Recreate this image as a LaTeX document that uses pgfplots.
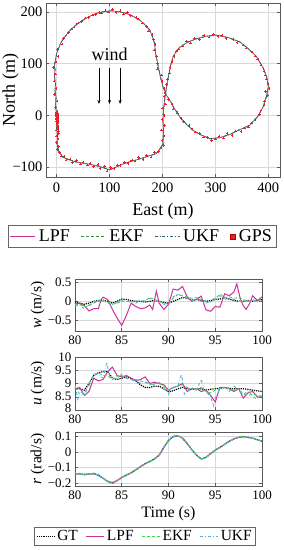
\documentclass[border=0pt]{standalone}
\usepackage{pgfplots}
\pgfplotsset{compat=1.18}
\usepackage{pgfplotstable}
\usetikzlibrary{arrows.meta}
\usepackage{fontspec}
\setmainfont{Liberation Serif}
\definecolor{lpfc}{RGB}{205,50,150}
\definecolor{ekfc}{RGB}{70,215,70}
\definecolor{ukfc}{RGB}{80,180,225}
\definecolor{gpsc}{RGB}{235,30,40}

\pgfplotstableread{
E N
0 0
-1 10
-2 22
-1 35
-3 48
-2 60
-4 75
-3 88
-4 96
-2 108
0 119
4 130
9 142
16 152
25 164
36 174
50 184
62 191
75 197
88 200
103 202
118 200
132 197
145 191
157 184
167 175
176 165
181 152
185 139
187 120
190 105
192 94
196 75
201 55
207 40
214 29
222 14
233 -3
245 -17
258 -29
273 -38
290 -45
308 -43
327 -37
345 -28
365 -19
380 -2
390 16
396 35
400 55
397 74
390 92
378 113
362 129
346 142
325 150
302 155
283 153
264 148
247 141
233 132
224 120
220 113
215 95
211 74
207 50
204 29
202 10
201 -10
202 -30
201 -55
195 -65
188 -74
172 -79
157 -84
140 -89
125 -94
112 -100
100 -105
88 -101
75 -97
55 -93
37 -90
22 -85
12 -81
4 -70
1 -55
2 -40
0 -23
1 -10
0 0
}\pathdata

\pgfplotstableread{
E N
0 0
1 2
-1 -1
2 -3
0 4
1 -5
-1 6
2 1
0 -8
1 8
3 -2
0 -12
2 -15
1 -18
3 -22
2 -26
4 -30
3 -35
-2 15
1 28
-4 40
-1 52
-5 66
-2 80
-6 92
-1 103
3 114
2 127
10 138
13 149
22 160
28 167
33 171
40 178
47 181
54 188
60 189
68 194
73 195
80 199
85 198
92 202
98 200
106 204
112 199
120 202
126 196
134 199
140 193
150 189
155 186
162 178
170 172
174 163
180 156
183 147
186 137
184 126
189 115
191 100
190 90
198 78
199 65
203 52
205 43
211 31
218 22
220 12
228 5
235 -6
240 -12
250 -19
256 -26
262 -32
270 -35
278 -42
285 -43
293 -48
300 -46
307 -41
315 -44
322 -35
331 -39
338 -30
348 -31
355 -24
362 -22
368 -15
375 -8
383 2
386 10
392 20
393 28
398 38
395 46
401 52
399 60
396 70
394 78
392 86
386 97
380 108
375 115
369 122
358 130
352 136
341 141
333 147
320 149
312 154
305 152
296 157
288 151
278 154
270 147
260 149
253 140
245 144
238 134
230 128
226 124
222 114
218 104
214 92
213 82
209 70
208 60
205 45
203 36
206 22
200 14
203 0
199 -8
204 -20
198 -28
203 -40
199 -48
202 -58
197 -62
192 -70
185 -72
178 -80
170 -77
163 -85
155 -81
148 -88
142 -86
135 -93
128 -90
120 -97
115 -96
108 -103
102 -101
95 -107
90 -99
82 -103
78 -95
70 -99
63 -93
58 -96
50 -90
45 -94
38 -87
30 -91
25 -84
18 -86
14 -79
8 -78
5 -72
2 -66
4 -60
-1 -52
3 -46
0 -40
4 -34
-1 -28
3 -24
1 -20
2 -16
0 -6
3 -8
1 -3
-1 3
2 5
1 -11
3 -13
2 -4
0 -2
3 3
1 -7
}\gpsdata

\pgfplotstableread{
t GT EKF UKF
80 -0.02 -0.10 -0.12
80.5 -0.05 -0.08 -0.10
81 -0.08 -0.15 -0.20
81.5 -0.05 -0.12 -0.10
82 0.00 -0.05 -0.02
82.5 0.02 0.00 0.02
83 0.03 0.03 0.00
83.5 0.00 -0.02 -0.05
84 -0.05 -0.08 -0.10
84.5 0.00 -0.05 -0.03
85 0.06 0.00 0.02
85.5 0.05 0.00 -0.02
86 0.02 -0.02 0.00
86.5 0.00 0.00 -0.05
87 0.00 0.00 0.02
87.5 -0.02 0.02 0.00
88 0.00 0.10 0.08
88.5 0.02 0.05 0.02
89 0.00 0.00 -0.02
89.5 -0.03 -0.05 -0.08
90 -0.05 -0.08 -0.10
90.5 0.00 0.08 0.12
91 0.05 0.18 0.20
91.5 0.10 0.15 0.12
92 0.08 0.12 0.08
92.5 0.03 0.08 0.02
93 0.05 0.10 0.05
93.5 0.02 0.05 0.00
94 0.00 0.00 -0.05
94.5 0.02 -0.02 0.00
95 0.05 0.05 0.10
95.5 0.06 0.20 0.15
96 0.10 0.10 0.05
96.5 0.06 0.12 0.08
97 0.02 0.08 0.05
97.5 0.00 0.10 0.00
98 0.00 0.05 -0.02
98.5 0.02 0.00 0.00
99 0.00 -0.02 0.05
99.5 0.02 0.05 -0.02
100 0.05 0.00 0.02
}\wdata

\pgfplotstableread{
t LPF
80 -0.05
80.5 -0.06
81 -0.12
81.5 -0.26
82 -0.20
82.5 -0.20
82.8 0.05
83 0.11
83.5 0.05
84 -0.22
84.5 -0.45
85 -0.65
85.5 -0.38
86 -0.05
86.5 -0.14
87 -0.20
87.5 -0.18
88 -0.10
88.3 -0.22
88.7 0.27
89 -0.05
89.5 -0.22
90 -0.08
90.5 0.33
91 0.30
91.5 0.40
92 0.12
92.5 0.00
93 0.05
93.5 0.14
94 -0.23
94.5 -0.27
95 -0.14
95.5 -0.16
96 0.20
96.5 0.15
97 0.25
97.3 0.47
97.7 0.05
98 -0.12
98.3 -0.22
98.7 -0.05
99 0.15
99.5 0.02
100 0.12
}\wlpf

\pgfplotstableread{
t GT LPF EKF
80 8.80 8.80 8.85
80.5 8.80 8.85 8.60
81 8.75 8.55 8.60
81.5 9.00 8.70 9.00
82 9.30 9.20 9.30
82.5 9.40 9.10 9.40
83 9.45 9.15 9.30
83.5 9.45 9.45 9.30
84 9.20 9.62 9.15
84.5 9.15 9.30 9.25
85 9.20 9.25 9.30
85.5 9.25 9.30 9.20
86 9.20 9.20 9.15
86.5 9.10 9.10 9.15
87 8.95 9.15 9.10
87.5 8.85 9.25 9.05
88 8.85 9.00 8.95
88.5 8.90 9.05 9.00
89 8.90 9.00 9.00
89.5 8.80 8.95 8.90
90 8.70 8.75 8.75
90.5 8.72 8.85 8.85
91 8.80 8.90 8.90
91.5 8.85 9.00 8.95
92 8.80 8.70 8.85
92.5 8.78 8.80 8.80
93 8.80 8.80 8.80
93.5 8.80 8.70 8.85
94 8.75 8.75 8.70
94.5 8.78 8.55 8.65
95 8.80 8.30 8.75
95.5 8.82 8.85 8.80
96 8.85 8.85 8.85
96.5 8.82 8.80 8.80
97 8.80 8.70 8.75
97.5 8.80 8.80 8.80
98 8.80 8.45 8.60
98.5 8.78 8.65 8.55
99 8.75 8.70 8.60
99.5 8.72 8.50 8.55
100 8.70 8.50 8.50
}\udata

\pgfplotstableread{
t UKF
80 8.95
80.3 8.40
80.7 8.70
81 8.60
81.5 8.90
82 9.40
82.5 9.30
83 9.20
83.4 9.80
83.7 9.30
84 9.20
84.5 9.20
85 9.35
85.5 9.20
86 9.10
86.5 9.15
87 9.00
87.5 9.05
88 9.00
88.5 8.95
89 9.05
89.5 8.85
90 8.60
90.5 8.85
91 8.90
91.4 9.35
91.7 8.60
92 8.70
92.5 8.85
93 8.75
93.5 9.15
93.8 8.70
94 8.70
94.5 8.50
94.8 8.15
95 8.45
95.5 8.80
96 8.85
96.5 8.70
97 8.90
97.5 8.75
98 8.55
98.5 8.75
99 8.50
99.5 8.40
100 8.60
}\uukf

\pgfplotstableread{
t GT UKF
80 -0.140 -0.142
80.5 -0.142 -0.135
81 -0.145 -0.150
81.5 -0.142 -0.138
82 -0.140 -0.145
82.5 -0.150 -0.145
83 -0.170 -0.172
83.5 -0.190 -0.186
84 -0.200 -0.198
84.5 -0.185 -0.186
85 -0.165 -0.168
85.5 -0.150 -0.148
86 -0.135 -0.138
86.5 -0.115 -0.112
87 -0.095 -0.098
87.5 -0.075 -0.073
88 -0.060 -0.062
88.5 -0.045 -0.042
89 -0.020 -0.022
89.5 0.030 0.032
90 0.075 0.077
90.5 0.100 0.102
91 0.105 0.108
91.5 0.090 0.088
92 0.055 0.057
92.5 0.015 0.013
93 -0.020 -0.022
93.5 -0.045 -0.047
94 -0.035 -0.033
94.5 -0.010 -0.012
95 0.012 0.015
95.5 0.030 0.028
96 0.050 0.053
96.5 0.070 0.072
97 0.085 0.083
97.5 0.095 0.097
98 0.100 0.098
98.5 0.095 0.097
99 0.090 0.088
99.5 0.080 0.082
100 0.070 0.068
}\rdata

\pgfplotstableread{
t EKF
80 -0.135
80.25 -0.145
80.5 -0.138
80.75 -0.150
81 -0.142
81.25 -0.152
81.5 -0.140
81.75 -0.148
82 -0.135
82.25 -0.145
82.5 -0.148
82.75 -0.162
83 -0.168
83.25 -0.182
83.5 -0.188
83.75 -0.202
84 -0.195
84.25 -0.190
84.5 -0.180
84.75 -0.178
85 -0.162
85.25 -0.160
85.5 -0.145
85.75 -0.142
86 -0.130
86.25 -0.128
86.5 -0.112
86.75 -0.108
87 -0.090
87.25 -0.088
87.5 -0.072
87.75 -0.070
88 -0.055
88.25 -0.056
88.5 -0.040
88.75 -0.035
89 -0.018
89.25 0.005
89.5 0.030
89.75 0.058
90 0.072
90.25 0.092
90.5 0.098
90.75 0.115
91 0.103
91.25 0.100
91.5 0.088
91.75 0.075
92 0.055
92.25 0.038
92.5 0.017
92.75 -0.005
93 -0.018
93.25 -0.035
93.5 -0.043
93.75 -0.042
94 -0.033
94.25 -0.025
94.5 -0.008
94.75 0.000
95 0.014
95.25 0.020
95.5 0.032
95.75 0.040
96 0.052
96.25 0.063
96.5 0.068
96.75 0.080
97 0.083
97.25 0.092
97.5 0.093
97.75 0.102
98 0.098
98.25 0.100
98.5 0.093
98.75 0.095
99 0.088
99.25 0.085
99.5 0.080
99.75 0.076
100 0.070
}\rekf

\pgfplotsset{
  common/.style={
    scale only axis,
    anchor=south west,
    grid=major,
    major grid style={gray!30, line width=0.5pt},
    axis line style={black!65, line width=0.6pt},
    tick style={black!65, line width=0.5pt},
    major tick length=3pt,
    every axis legend/.append style={draw=black!60, line width=0.6pt},
  },
  linelegend/.style={legend image code/.code={\draw[##1] (0pt,0pt) -- (25pt,0pt);}},
  shortlegend/.style={legend image code/.code={\draw[##1] (0pt,0pt) -- (18pt,0pt);}},
  smallaxis/.style={common,
    width=187pt, xmin=80, xmax=100,
    xtick={80,85,90,95,100}, xticklabels={80,85,90,95,100},
    tick label style={font=\fontsize{13}{13}\selectfont},
    xticklabel style={yshift=-1pt},
    every axis y label/.style={at={(axis description cs:-0.2,0.5)}, rotate=90, anchor=center, font=\fontsize{15.5}{15.5}\selectfont},
  },
}

\begin{document}
\begin{tikzpicture}
\path[use as bounding box] (0,0) rectangle (284pt,550pt);

% ---------------- top: trajectory ----------------
\begin{axis}[common,
  at={(46pt,373pt)}, width=234pt, height=174pt,
  xmin=-20, xmax=422, ymin=-119, ymax=217,
  xtick={0,100,200,300,400}, xticklabels={0,100,200,300,400},
  ytick={-100,0,100,200}, yticklabels={−100,0,100,200},
  tick label style={font=\fontsize{14.5}{14.5}\selectfont},
  xticklabel style={yshift=-2pt},
  xlabel={East (m)}, ylabel={North (m)},
  every axis x label/.style={at={(axis description cs:0.5,-0.195)}, anchor=center, font=\fontsize{18}{18}\selectfont},
  every axis y label/.style={at={(axis description cs:-0.152,0.5)}, rotate=90, anchor=center, font=\fontsize{18}{18}\selectfont},
  legend columns=4,
  legend style={at={(axis description cs:0.41,-0.342)}, anchor=center,
    font=\fontsize{18}{18}\selectfont, inner sep=2pt,
    /tikz/every even column/.append style={column sep=9pt},
    /tikz/every odd column/.append style={column sep=1pt}},
]
\addplot[lpfc, line width=0.7pt, linelegend] table[x=E,y=N] {\pathdata};
\addlegendentry{LPF}
\addplot[ekfc!70!black, densely dashed, line width=0.7pt, linelegend] table[x=E,y=N] {\pathdata};
\addlegendentry{EKF}
\addplot[ukfc!55!black, dash dot, line width=0.7pt, linelegend] table[x=E,y=N] {\pathdata};
\addlegendentry{UKF}
\addplot[only marks, mark=+, mark size=1.3pt, gpsc, line width=0.5pt,
  legend image code/.code={\draw[fill=gpsc, draw=red!70!black, line width=0.6pt] (-2.5pt,-2.5pt) rectangle (2.5pt,2.5pt);}]
  table[x=E,y=N] {\gpsdata};
\addlegendentry{GPS}
\node[font=\fontsize{18}{18}\selectfont] at (axis cs:100,118) {wind};
\draw[-{Stealth[length=4pt,width=3pt]}, line width=0.6pt] (axis cs:80,92) -- (axis cs:80,22);
\draw[-{Stealth[length=4pt,width=3pt]}, line width=0.6pt] (axis cs:100,92) -- (axis cs:100,22);
\draw[-{Stealth[length=4pt,width=3pt]}, line width=0.6pt] (axis cs:120,92) -- (axis cs:120,22);
\end{axis}

% ---------------- w ----------------
\begin{axis}[smallaxis,
  at={(75pt,219pt)}, height=52pt,
  ymin=-0.8, ymax=0.6,
  ytick={-0.5,0,0.5}, yticklabels={−0.5,0,0.5},
  ylabel={\textit{w} (m/s)},
]
\addplot[black, densely dotted, line width=1.2pt] table[x=t,y=GT] {\wdata};
\addplot[lpfc, line width=1pt] table[x=t,y=LPF] {\wlpf};
\addplot[ekfc, densely dashed, line width=0.9pt] table[x=t,y=EKF] {\wdata};
\addplot[ukfc, dash dot, line width=0.9pt] table[x=t,y=UKF] {\wdata};
\end{axis}

% ---------------- u ----------------
\begin{axis}[smallaxis,
  at={(75pt,140pt)}, height=53pt,
  ymin=8, ymax=10,
  ytick={8,8.5,9,9.5,10}, yticklabels={\raisebox{3pt}{8},8.5,9,9.5,10},
  ylabel={\textit{u} (m/s)},
]
\addplot[black, densely dotted, line width=1.2pt] table[x=t,y=GT] {\udata};
\addplot[lpfc, line width=1pt] table[x=t,y=LPF] {\udata};
\addplot[ekfc, densely dashed, line width=0.9pt] table[x=t,y=EKF] {\udata};
\addplot[ukfc, dash dot, line width=0.9pt] table[x=t,y=UKF] {\uukf};
\end{axis}

% ---------------- r ----------------
\begin{axis}[smallaxis,
  at={(75pt,64pt)}, height=54pt,
  ymin=-0.22, ymax=0.13,
  ytick={-0.2,-0.1,0,0.1}, yticklabels={−0.2,−0.1,0,0.1},
  ylabel={\textit{r} (rad/s)}, xlabel={Time (s)},
  every axis x label/.style={at={(axis description cs:0.5,-0.52)}, anchor=center, font=\fontsize{16}{16}\selectfont},
  legend columns=4,
  legend style={at={(axis description cs:0.374,-0.93)}, anchor=center,
    font=\fontsize{15.5}{15.5}\selectfont, inner sep=1.5pt,
    /tikz/every even column/.append style={column sep=6pt},
    /tikz/every odd column/.append style={column sep=0pt}},
]
\addplot[black, densely dotted, line width=1.2pt, shortlegend] table[x=t,y=GT] {\rdata};
\addlegendentry{GT}
\addplot[lpfc, line width=1pt, shortlegend] table[x=t,y=GT] {\rdata};
\addlegendentry{LPF}
\addplot[ekfc, densely dashed, line width=0.9pt, shortlegend] table[x=t,y=EKF] {\rekf};
\addlegendentry{EKF}
\addplot[ukfc, dash dot, line width=0.9pt, shortlegend] table[x=t,y=UKF] {\rdata};
\addlegendentry{UKF}
\end{axis}
\end{tikzpicture}
\end{document}
